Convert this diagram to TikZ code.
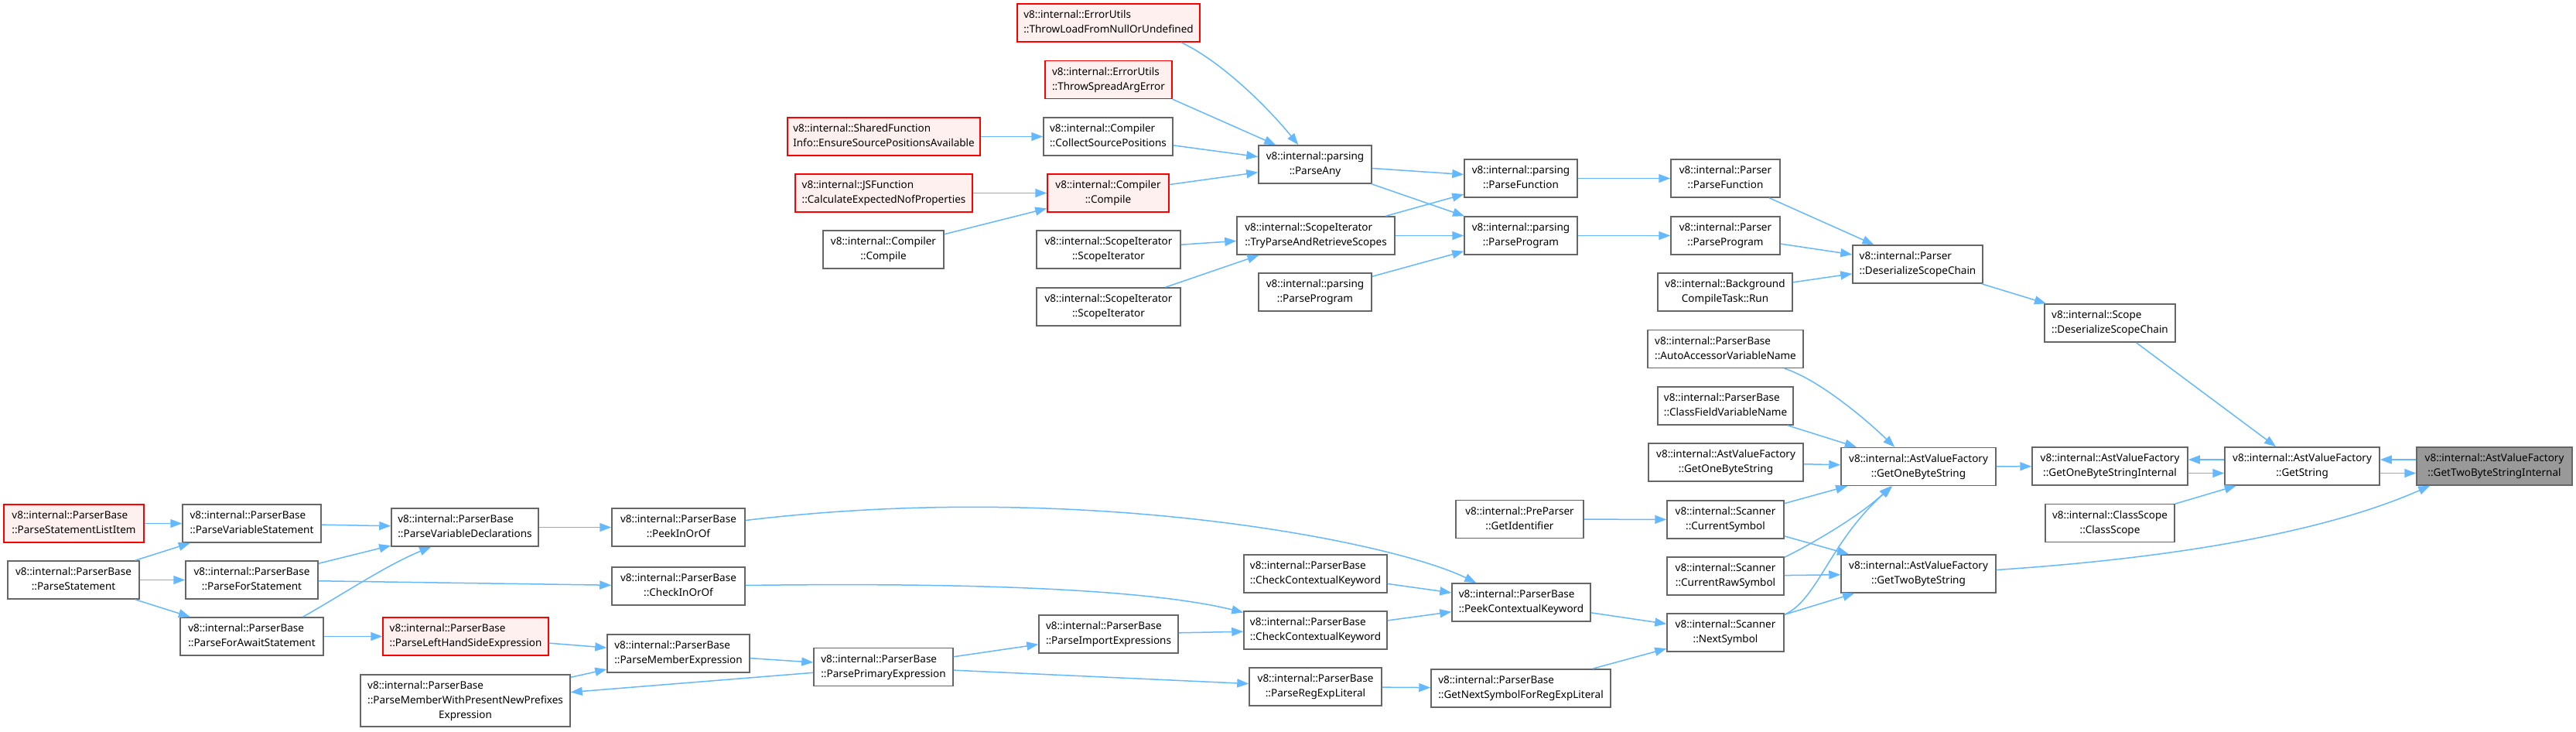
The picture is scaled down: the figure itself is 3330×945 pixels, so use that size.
\documentclass[tikz,border=0pt]{standalone}
\usepackage{fontspec}
\setmainfont{Noto Sans}
\usetikzlibrary{arrows.meta,calc}
\definecolor{edgeblue}{HTML}{63B8FF}
\definecolor{bordergray}{HTML}{666666}
\definecolor{redfill}{HTML}{FFF0F0}
\definecolor{grayfill}{HTML}{999999}
\newcommand{\twol}[2]{\begin{tabular}{@{}l@{}}#1\\\multicolumn{1}{@{}c@{}}{#2}\end{tabular}}
\tikzset{
  fn/.style={draw=bordergray, fill=white, line width=1.5pt, inner sep=0pt,
    minimum height=49pt, font=\fontsize{13.5}{19}\selectfont},
  fnred/.style={fn, draw=red, fill=redfill},
  fngray/.style={fn, fill=grayfill},
  edge/.style={draw=edgeblue, line width=1.5pt, -{Triangle[length=15pt,width=11pt]}}
}
\begin{document}
\begin{tikzpicture}[x=1pt,y=-1pt]
\useasboundingbox (0,0) rectangle (3330,945);
% left area
\node[fnred,minimum width=181pt] (n1) at (95.5,676.5) {\twol{v8::internal::ParserBase}{::ParseStatementListItem}};
\node[fn,minimum width=179pt] (n2) at (325.5,676.5) {\twol{v8::internal::ParserBase}{::ParseVariableStatement}};
\node[fn,minimum width=170pt] (n3) at (95,749.5) {\twol{v8::internal::ParserBase}{::ParseStatement}};
\node[fn,minimum width=171pt] (n4) at (325.5,749.5) {\twol{v8::internal::ParserBase}{::ParseForStatement}};
\node[fn,minimum width=185pt] (n5) at (325.5,822.5) {\twol{v8::internal::ParserBase}{::ParseForAwaitStatement}};
\node[fn,minimum width=190pt] (n6) at (601,681.5) {\twol{v8::internal::ParserBase}{::ParseVariableDeclarations}};
\node[fn,minimum width=172pt] (n7) at (877,681.5) {\twol{v8::internal::ParserBase}{::PeekInOrOf}};
\node[fn,minimum width=172pt] (n8) at (877,757.5) {\twol{v8::internal::ParserBase}{::CheckInOrOf}};
\node[fnred,minimum width=214pt] (n9) at (602,822.5) {\twol{v8::internal::ParserBase}{::ParseLeftHandSideExpression}};
\node[fn,minimum width=184pt] (n10) at (877,844.5) {\twol{v8::internal::ParserBase}{::ParseMemberExpression}};
\node[fn,minimum width=271pt,minimum height=67pt] (n11) at (601.5,905.5) {\begin{tabular}{@{}l@{}}v8::internal::ParserBase\\::ParseMemberWithPresentNewPrefixes\\\multicolumn{1}{@{}c@{}}{Expression}\end{tabular}};
\node[fn,minimum width=180pt] (n12) at (1142,862) {\twol{v8::internal::ParserBase}{::ParsePrimaryExpression}};
\node[fn,minimum width=180pt] (n13) at (1433,819.5) {\twol{v8::internal::ParserBase}{::ParseImportExpressions}};
\node[fn,minimum width=185pt] (n14) at (1700.5,741.5) {\twol{v8::internal::ParserBase}{::CheckContextualKeyword}};
\node[fn,minimum width=185pt] (n15) at (1700.5,814.5) {\twol{v8::internal::ParserBase}{::CheckContextualKeyword}};
\node[fn,minimum width=171pt] (n16) at (1700.5,887.5) {\twol{v8::internal::ParserBase}{::ParseRegExpLiteral}};
\node[fn,minimum width=179pt] (n17) at (1966.5,778.5) {\twol{v8::internal::ParserBase}{::PeekContextualKeyword}};
\node[fn,minimum width=232pt] (n18) at (1966,889.5) {\twol{v8::internal::ParserBase}{::GetNextSymbolForRegExpLiteral}};
\node[fn,minimum width=165pt] (n19) at (1964.5,671) {\twol{v8::internal::PreParser}{::GetIdentifier}};
\node[fn,minimum width=151pt] (n20) at (2230.5,671.5) {\twol{v8::internal::Scanner}{::CurrentSymbol}};
\node[fn,minimum width=151pt] (n21) at (2230.5,744.5) {\twol{v8::internal::Scanner}{::CurrentRawSymbol}};
\node[fn,minimum width=151pt] (n22) at (2230.5,817.5) {\twol{v8::internal::Scanner}{::NextSymbol}};
\node[fn,minimum width=200pt] (n23) at (2480,603) {\twol{v8::internal::AstValueFactory}{::GetOneByteString}};
\node[fn,minimum width=200pt] (n24) at (2480,741.5) {\twol{v8::internal::AstValueFactory}{::GetTwoByteString}};
\node[fn,minimum width=201pt] (n25) at (2727.5,602.5) {\twol{v8::internal::AstValueFactory}{::GetOneByteStringInternal}};
\node[fn,minimum width=200pt] (n26) at (2976,602.5) {\twol{v8::internal::AstValueFactory}{::GetString}};
\node[fngray,minimum width=201pt] (n27) at (3224.5,602.5) {\twol{v8::internal::AstValueFactory}{::GetTwoByteStringInternal}};
\node[fn,minimum width=167pt] (n28) at (2727.5,676) {\twol{v8::internal::ClassScope}{::ClassScope}};
\node[fn,minimum width=169pt] (n29) at (2727.5,417.5) {\twol{v8::internal::Scope}{::DeserializeScopeChain}};
\node[fn,minimum width=201pt] (n30) at (2230.5,451) {\twol{v8::internal::ParserBase}{::AutoAccessorVariableName}};
\node[fn,minimum width=175pt] (n31) at (2230.5,524.5) {\twol{v8::internal::ParserBase}{::ClassFieldVariableName}};
\node[fn,minimum width=200pt] (n32) at (2231,597.5) {\twol{v8::internal::AstValueFactory}{::GetOneByteString}};
\node[fn,minimum width=168pt] (n33) at (2479,341.5) {\twol{v8::internal::Parser}{::DeserializeScopeChain}};
\node[fn,minimum width=141pt] (n34) at (2230.5,230.5) {\twol{v8::internal::Parser}{::ParseFunction}};
\node[fn,minimum width=141pt] (n35) at (2230.5,304.5) {\twol{v8::internal::Parser}{::ParseProgram}};
\node[fn,minimum width=174pt] (n36) at (2230,377.5) {\twol{v8::internal::Background}{CompileTask::Run}};
\node[fn,minimum width=146pt] (n37) at (1966,230.5) {\twol{v8::internal::parsing}{::ParseFunction}};
\node[fn,minimum width=146pt] (n38) at (1966,304.5) {\twol{v8::internal::parsing}{::ParseProgram}};
\node[fn,minimum width=146pt] (n39) at (1700,212.5) {\twol{v8::internal::parsing}{::ParseAny}};
\node[fn,minimum width=204pt] (n40) at (1701,304.5) {\twol{v8::internal::ScopeIterator}{::TryParseAndRetrieveScopes}};
\node[fn,minimum width=146pt] (n41) at (1700,377.5) {\twol{v8::internal::parsing}{::ParseProgram}};
\node[fnred,minimum width=236pt] (n42) at (1433,29.5) {\twol{v8::internal::ErrorUtils}{::ThrowLoadFromNullOrUndefined}};
\node[fnred,minimum width=164pt] (n43) at (1433,103) {\twol{v8::internal::ErrorUtils}{::ThrowSpreadArgError}};
\node[fn,minimum width=167pt] (n44) at (1432.5,176.5) {\twol{v8::internal::Compiler}{::CollectSourcePositions}};
\node[fnred,minimum width=157pt] (n45) at (1432.5,249.5) {\twol{v8::internal::Compiler}{::Compile}};
\node[fn,minimum width=186pt] (n46) at (1433,322.5) {\twol{v8::internal::ScopeIterator}{::ScopeIterator}};
\node[fn,minimum width=186pt] (n47) at (1433,396.5) {\twol{v8::internal::ScopeIterator}{::ScopeIterator}};
\node[fnred,minimum width=249pt] (n48) at (1142.5,176.5) {\twol{v8::internal::SharedFunction}{Info::EnsureSourcePositionsAvailable}};
\node[fnred,minimum width=229pt] (n49) at (1142.5,249.5) {\twol{v8::internal::JSFunction}{::CalculateExpectedNofProperties}};
\node[fn,minimum width=156pt] (n50) at (1142,322.5) {\twol{v8::internal::Compiler}{::Compile}};

% edges
\draw[edge] (n1) -- (n2);
\draw[edge] (n3) -- (n2);
\draw[edge] (n3) -- (n4);
\draw[edge] (n3) -- (n5);
\draw[edge] (n2) -- (n6);
\draw[edge] (n4) -- (n6);
\draw[edge] ($(n5.north)+(66,0)$) .. controls (440,770) and (500,730) .. ($(n6.south west)+(52,0)$);
\draw[edge] (n4) -- (n8);
\draw[edge] (n5) -- (n9);
\draw[edge] (n6) -- (n7);
\draw[edge] (n9) -- (n10);
\draw[edge] (n11) -- (n10);
\draw[edge] (n12) -- (n11);
\draw[edge] (n10) -- (n12);
\draw[edge] ($(n7.east)+(0,-9)$) .. controls (1400,620) and (1800,700) .. ($(n17.north west)+(32,0)$);
\draw[edge] ($(n8.east)+(0,-1)$) .. controls (1300,752) and (1500,765) .. ($(n15.west)+(0,-23)$);
\draw[edge] (n12) -- (n13);
\draw[edge] (n13) -- (n15);
\draw[edge] (n12) -- (n16);
\draw[edge] (n16) -- (n18);
\draw[edge] (n14) -- (n17);
\draw[edge] (n15) -- (n17);
\draw[edge] (n17) -- (n22);
\draw[edge] (n18) -- (n22);
\draw[edge] (n19) -- (n20);
\draw[edge] (n20) -- (n23);
\draw[edge] (n20) -- (n24);
\draw[edge] ($(n21.north east)+(0,1)$) .. controls (2350,699) and (2410,662) .. ($(n23.south west)+(65,0)$);
\draw[edge] (n21) -- (n24);
\draw[edge] ($(n22.north east)+(0,2)$) .. controls (2350,775) and (2365,700) .. ($(n23.south west)+(67,0)$);
\draw[edge] (n22) -- (n24);
\draw[edge] ($(n30.south east)+(-25,0)$) .. controls (2350,490) and (2410,540) .. ($(n23.north west)+(70,0)$);
\draw[edge] (n31) -- (n23);
\draw[edge] (n32) -- (n23);
\draw[edge] (n23) -- (n25);
\draw[edge] ($(n26.west)+(0,-8.5)$) -- ($(n25.east)+(0,-8.5)$);
\draw[edge] ($(n25.east)+(0,9)$) -- ($(n26.west)+(0,9)$);
\draw[edge] ($(n27.west)+(0,-8.5)$) -- ($(n26.east)+(0,-8.5)$);
\draw[edge] ($(n26.east)+(0,9)$) -- ($(n27.west)+(0,9)$);
\draw[edge] (n28) -- (n26);
\draw[edge] (n29) -- (n26);
\draw[edge] (n33) -- (n29);
\draw[edge] (n34) -- (n33);
\draw[edge] (n35) -- (n33);
\draw[edge] (n36) -- (n33);
\draw[edge] (n37) -- (n34);
\draw[edge] (n38) -- (n35);
\draw[edge] (n39) -- (n37);
\draw[edge] (n39) -- (n38);
\draw[edge] (n40) -- (n37);
\draw[edge] (n40) -- (n38);
\draw[edge] (n41) -- (n38);
\draw[edge] (n46) -- (n40);
\draw[edge] (n47) -- (n40);
\draw[edge] ($(n42.south east)+(-25,0)$) .. controls (1580,80) and (1640,140) .. ($(n39.north west)+(52,0)$);
\draw[edge] (n43.south east) -- ($(n39.north west)+(23,0)$);
\draw[edge] (n44) -- (n39);
\draw[edge] (n45) -- (n39);
\draw[edge] (n48) -- (n44);
\draw[edge] (n49) -- (n45);
\draw[edge] (n50) -- (n45);
\draw[edge] ($(n24.east)+(0,-5)$) .. controls (2800,722) and (3000,690) .. ($(n27.south west)+(18,0)$);
\end{tikzpicture}
\end{document}
